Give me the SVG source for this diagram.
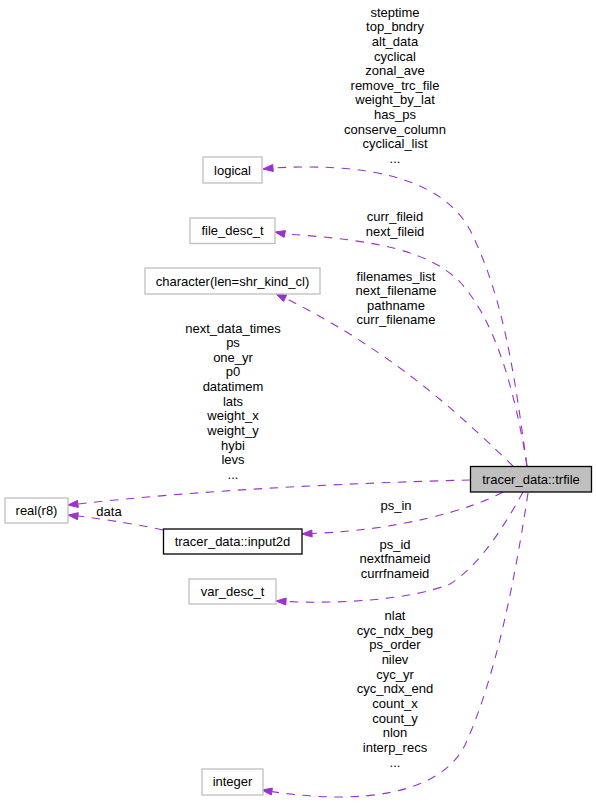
<svg xmlns="http://www.w3.org/2000/svg" width="596" height="806" viewBox="0 0 596 806">
<style>
text{font-family:"Liberation Sans",Arial,Helvetica,sans-serif;font-size:13px;fill:#000;text-anchor:middle}
.ext{fill:#fff;stroke:#bfbfbf;stroke-width:1.3}
.cls{fill:#fff;stroke:#000;stroke-width:1.3}
.main{fill:#bfbfbf;stroke:#000;stroke-width:1.3}
.e{fill:none;stroke:#9a32cd;stroke-width:1.1;stroke-dasharray:8.5,7.5}
.a{fill:#9a32cd;stroke:#9a32cd;stroke-width:1}
</style>
<rect width="596" height="806" fill="#fff"/>
<g id="connectors">
<path class="e" d="M527,466 C515,380 505,300 470,230 C440,175 360,163 273,168"/>
<polygon class="a" points="273.3,171.5 263,169 272.7,164.5"/>
<path class="e" d="M527,466 C515,390 495,320 460,282 C430,252 380,240 285,234"/>
<polygon class="a" points="285.5,230.6 275,232 284.1,237.4"/>
<path class="e" d="M513,466 C470,425 400,355 285,298"/>
<polygon class="a" points="286.6,295 276,294 283.6,301.4"/>
<path class="e" d="M470,480 C350,483 200,490 78,504"/>
<polygon class="a" points="78.3,507.4 68,505 77.5,500.4"/>
<path class="e" d="M163,530 C140,525 110,520 78,516"/>
<polygon class="a" points="77.5,519.7 68,515 78.3,512.7"/>
<path class="e" d="M503,492 C470,510 400,530 312,533.5"/>
<polygon class="a" points="312.2,537 302,534 311.8,530"/>
<path class="e" d="M523,492 C505,525 480,565 450,584 C410,600 340,604 286,601.5"/>
<polygon class="a" points="285.8,605 276,601 286.2,598"/>
<path class="e" d="M528,493 C515,580 495,680 465,745 C440,795 360,805 272,791.6"/>
<polygon class="a" points="271.3,795 262,790 272.4,788.1"/>
<g id="edge-labels">
<text x="395" y="16.5">steptime</text>
<text x="395" y="31.2">top_bndry</text>
<text x="395" y="45.8">alt_data</text>
<text x="395" y="60.5">cyclical</text>
<text x="395" y="75.1">zonal_ave</text>
<text x="395" y="89.8">remove_trc_file</text>
<text x="395" y="104.4">weight_by_lat</text>
<text x="395" y="119.1">has_ps</text>
<text x="395" y="133.7">conserve_column</text>
<text x="395" y="148.4">cyclical_list</text>
<text x="395" y="163">...</text>
<text x="395" y="221">curr_fileid</text>
<text x="395" y="235.6">next_fileid</text>
<text x="396" y="280.5">filenames_list</text>
<text x="396" y="295.1">next_filename</text>
<text x="396" y="309.8">pathname</text>
<text x="396" y="324.4">curr_filename</text>
<text x="233" y="332.5">next_data_times</text>
<text x="233" y="347.1">ps</text>
<text x="233" y="361.8">one_yr</text>
<text x="233" y="376.4">p0</text>
<text x="233" y="391.1">datatimem</text>
<text x="233" y="405.7">lats</text>
<text x="233" y="420.4">weight_x</text>
<text x="233" y="435">weight_y</text>
<text x="233" y="449.7">hybi</text>
<text x="233" y="464.3">levs</text>
<text x="233" y="479">...</text>
<text x="109" y="515.5">data</text>
<text x="396" y="509.5">ps_in</text>
<text x="395" y="548.5">ps_id</text>
<text x="395" y="563.1">nextfnameid</text>
<text x="395" y="577.8">currfnameid</text>
<text x="395" y="620">nlat</text>
<text x="395" y="634.6">cyc_ndx_beg</text>
<text x="395" y="649.3">ps_order</text>
<text x="395" y="663.9">nilev</text>
<text x="395" y="678.6">cyc_yr</text>
<text x="395" y="693.2">cyc_ndx_end</text>
<text x="395" y="707.9">count_x</text>
<text x="395" y="722.5">count_y</text>
<text x="395" y="737.2">nlon</text>
<text x="395" y="751.8">interp_recs</text>
<text x="395" y="766.5">...</text>
</g>
</g>
<g id="node-trfile"><rect class="main" x="470.5" y="466.5" width="121" height="25.5"/><text x="531" y="483.5">tracer_data::trfile</text></g>
<g id="node-logical"><rect class="ext" x="203" y="157" width="59" height="26"/><text x="232.5" y="174.5">logical</text></g>
<g id="node-file_desc_t"><rect class="ext" x="190" y="218" width="85" height="25.5"/><text x="232.5" y="235">file_desc_t</text></g>
<g id="node-character"><rect class="ext" x="145" y="268" width="175" height="26"/><text x="232.5" y="285.5">character(len=shr_kind_cl)</text></g>
<g id="node-real"><rect class="ext" x="5" y="498" width="63" height="25"/><text x="36.5" y="515">real(r8)</text></g>
<g id="node-input2d"><rect class="cls" x="163.5" y="529" width="138.5" height="25"/><text x="232.5" y="546">tracer_data::input2d</text></g>
<g id="node-var_desc_t"><rect class="ext" x="189" y="579" width="87" height="25"/><text x="232.5" y="596">var_desc_t</text></g>
<g id="node-integer"><rect class="ext" x="202" y="769" width="61" height="26"/><text x="232.5" y="786">integer</text></g>
</svg>
